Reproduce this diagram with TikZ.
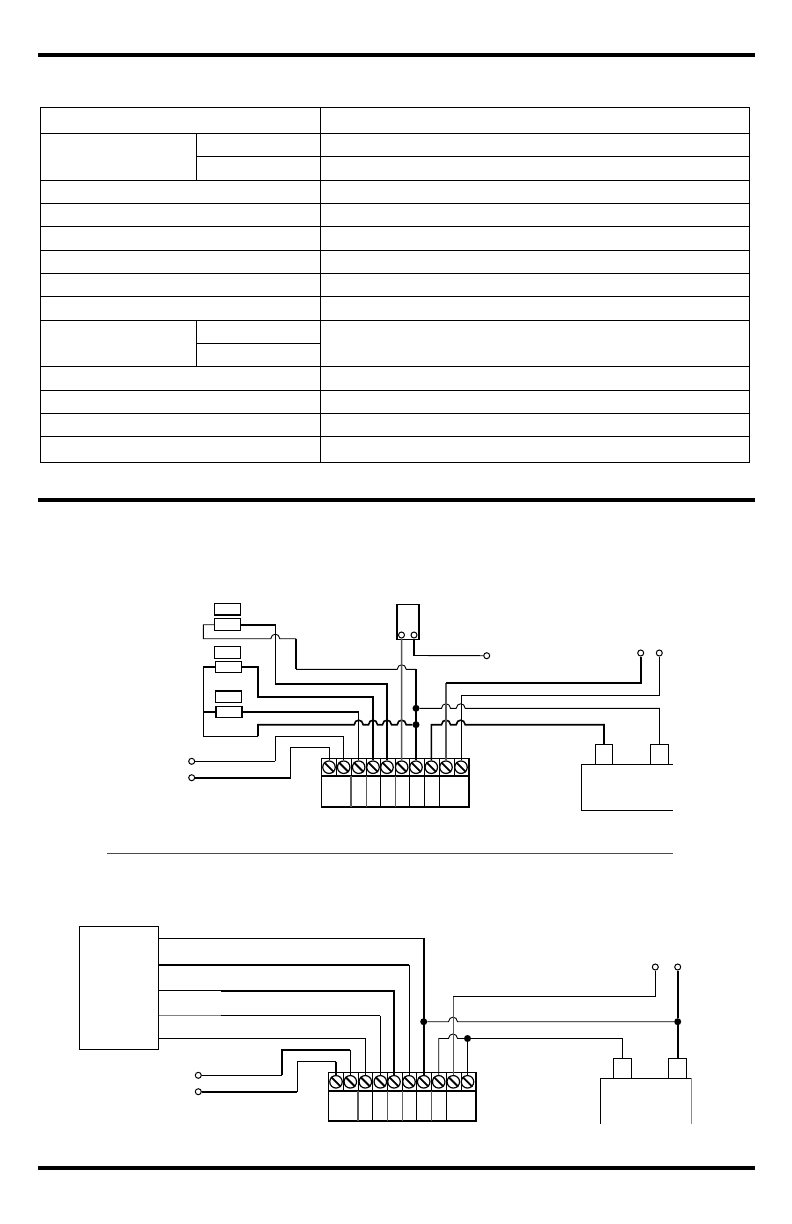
\documentclass[tikz,border=0pt]{standalone}
\usepackage{tikz}
\def\hop#1#2{-- ({#1-4.5},#2) .. controls ({#1-4},{#2-6}) and ({#1+4},{#2-6}) .. ({#1+4.5},#2)}
\tikzset{
  wire/.style={line width=.9pt},
  wirethick/.style={line width=1.6pt},
  wiregray/.style={line width=1.5pt, black!65},
  rule/.style={line width=4pt},
  cell/.style={line width=1pt},
  screw/.style={circle, draw, fill=white, line width=1.2pt, inner sep=0pt, minimum size=12.5pt},
  lug/.style={circle, draw, fill=white, line width=1pt, inner sep=0pt, minimum size=6pt},
  dot/.style={circle, fill=black, inner sep=0pt, minimum size=7pt},
  fuse/.style={rectangle, draw, fill=white, line width=1pt, inner sep=0pt, minimum width=26pt, minimum height=11.5pt},
  post/.style={rectangle, draw, fill=white, line width=1pt, inner sep=0pt, minimum width=17.5pt, minimum height=20pt}
}
\begin{document}
\begin{tikzpicture}[x=1pt, y=-1pt]

    \useasboundingbox (0,0) rectangle (792,1224);

    % page rules
    \draw[rule] (38,55) -- (755,55);
    \draw[rule] (38,500) -- (755,500);
    \draw[rule] (38,1168) -- (755,1168);
    \draw[line width=.8pt, black!70] (107,853.5) -- (673,853.5);

    % table
    \draw[cell] (40.5,107.3) rectangle (749.5,462.3);
    \foreach \y in {133.3,180.3,203.3,226.5,250.3,273.3,296.5,320.3,366.3,390.3,413.3,436.3}
      \draw[cell] (40.5,\y) -- (749.5,\y);
    \draw[cell] (320.3,107.3) -- (320.3,462.3);
    \draw[cell] (196.3,133.3) -- (196.3,180.3);
    \draw[cell] (196.3,320.3) -- (196.3,366.3);
    \draw[cell] (196.3,156.3) -- (749.5,156.3);
    \draw[cell] (196.3,343.3) -- (320.3,343.3);

    % upper terminal block
    \draw[line width=1.3pt] (321.7,758.3) rectangle (469,807);
    \draw[line width=1.3pt] (321.7,776) -- (469,776);
    \foreach \x in {336.3,351,366.3,380.7,395.3,409.3,424.3,439.3,454}
      \draw[line width=1pt] (\x,758.3) -- (\x,776);
    \draw[wiregray] (351,776) -- (351,807);
    \draw[wiregray] (366.3,776) -- (366.3,807);
    \draw[line width=1.3pt] (380.7,776) -- (380.7,807);
    \draw[wiregray] (395.3,776) -- (395.3,807);
    \draw[wire] (409.3,776) -- (409.3,807);
    \draw[line width=1.3pt] (424.3,776) -- (424.3,807);
    \draw[line width=1.3pt] (439.3,776) -- (439.3,807);
    \foreach \i/\x in {1/329,2/343.7,3/358.7,4/373,5/387,6/401.7,7/416,8/431.3,9/446,10/461}{
      \node[screw] (a\i) at (\x,767.2) {};
      \draw[line width=1.8pt] (a\i.135) -- (a\i.-45);
    }

    % fuses and relay
    \node[fuse, line width=1.6pt] (fa) at (227.3,609.3) {};
    \node[fuse] (fb) at (227.3,624.7) {};
    \node[fuse] (fc) at (227.7,652.3) {};
    \node[fuse, line width=1.4pt] (fd) at (228.3,667) {};
    \node[fuse, line width=1.4pt] (fe) at (228.7,696.7) {};
    \node[fuse, line width=1.4pt] (ff) at (229,712) {};
    \node[rectangle, draw, line width=1.4pt, inner sep=0pt, minimum width=22pt, minimum height=34.5pt] (relay) at (407.8,622) {};
    \node[lug] (ra) at (401.5,635) {};
    \node[lug] (rb) at (414,635) {};

    % upper lugs, dots, battery posts
    \node[lug] (la) at (191.7,761.3) {};
    \node[lug] (lb) at (191.7,777.7) {};
    \node[lug] (lr) at (486.7,655.7) {};
    \node[lug] (lc) at (640.7,653) {};
    \node[lug] (ld) at (659.3,653) {};
    \node[dot] (ds) at (416,708.3) {};
    \node[dot] (dt) at (416,724.7) {};
    \node[post] (pa) at (604,754.7) {};
    \node[post] (pb) at (659.5,754.7) {};
    \draw[wire] (672.7,764.7) -- (581.7,764.7) -- (581.7,810.3) -- (672.7,810.3);

    % upper wires
    \draw[wirethick] (fb.east) -| (275.3,684);
    \draw[wirethick] (275.3,684) -| (a5.north);
    \draw[wire] (fb.west) -- (203.3,624.7) -- (203.3,638.7) \hop{275.3}{638.7} -- (296,638.7);
    \draw[wirethick] (296,638.7) -- (296,669.3);
    \draw[wire] (296,669.3) \hop{401.7}{669.3} -- (416,669.3);
    \draw[wirethick] (416,669.3) -- (a7.north);
    \draw[wirethick] (fd.east) -| (258,697) -| (a4.north);
    \draw[wirethick] (fd.west) -- (203.3,667);
    \draw[wire] (203.3,667) -- (203.3,736) -- (258,736);
    \draw[wirethick] (258,736) -- (258,724.7) \hop{358.7}{724.7} \hop{373}{724.7} \hop{387}{724.7} \hop{401.7}{724.7} -- (dt);
    \draw[line width=1.3pt] (ff.east) -- (358.7,712);
    \draw[wire] (358.7,712) -- (a3.north);
    \draw[wirethick] (ff.west) -- (203.3,712);
    \draw[wire] (la.east) -- (275.3,761.3);
    \draw[wirethick] (275.3,761.3) -- (275.3,736);
    \draw[wire] (275.3,736) -| (a2.north);
    \draw[wirethick] (lb.east) -- (290.7,777.7);
    \draw[wire] (290.7,777.7) -- (290.7,747.3) -| (a1.north);
    \draw[wiregray] (ra.south) -- (a6.north);
    \draw[wirethick] (rb.south) -- (414,655.5);
    \draw[wire] (414,655.5) -- (lr.west);
    \draw[wire] (ds) \hop{446}{708.3} \hop{460.7}{708.3} -| (pb.north);
    \draw[wirethick] (a8.north) -- (431.3,724.7) \hop{446}{724.7} \hop{460.7}{724.7} -| (pa.north);
    \draw[wiregray] (a9.north) -- (446,682.7);
    \draw[wirethick] (446,682.7) -| (lc.south);
    \draw[wire] (a10.north) -- (461,695) -| (ld.south);

    % lower terminal block
    \draw[line width=1.3pt] (328.3,1072.7) rectangle (476,1121);
    \draw[line width=1.3pt] (328.3,1091) -- (476,1091);
    \foreach \x in {343.3,358,372.7,387.3,402.7,416.7,431.7,446.7,461.7}
      \draw[line width=1pt] (\x,1072.7) -- (\x,1091);
    \draw[wiregray] (358,1091) -- (358,1121);
    \draw[line width=1.3pt] (372.7,1091) -- (372.7,1121);
    \draw[wiregray] (387.3,1091) -- (387.3,1121);
    \draw[wire, black!60] (402.7,1091) -- (402.7,1121);
    \draw[wire] (416.7,1091) -- (416.7,1121);
    \draw[wiregray] (431.7,1091) -- (431.7,1121);
    \draw[wire] (446.7,1091) -- (446.7,1121);
    \foreach \i/\x in {1/336,2/350.3,3/365.3,4/380.3,5/394,6/409,7/423.7,8/438.7,9/453.3,10/467.5}{
      \node[screw] (b\i) at (\x,1081.8) {};
      \draw[line width=1.8pt] (b\i.135) -- (b\i.-45);
    }

    % panel, lower lugs, dots, battery posts
    \node[rectangle, draw, line width=1pt, inner sep=0pt, minimum width=79pt, minimum height=122.6pt] (panel) at (119.2,988) {};
    \node[lug] (lp) at (198.3,1075.3) {};
    \node[lug] (lq) at (198.3,1091.7) {};
    \node[lug] (ls) at (655.3,967) {};
    \node[lug] (lt) at (677.7,967) {};
    \node[dot] (du) at (423.7,1021.7) {};
    \node[dot] (dv) at (677.7,1021.7) {};
    \node[dot] (dw) at (467.5,1038.5) {};
    \node[post] (pc) at (622.7,1068.3) {};
    \node[post] (pd) at (677.7,1068.3) {};
    \draw[wire] (600.3,1123.7) -- (600.3,1078.3) -- (691.3,1078.3);
    \draw[wire, black!45] (691.3,1078.3) -- (691.3,1123.7);

    % lower wires
    \draw[wire] (158.7,938.3) -- (423.7,938.3);
    \draw[wirethick] (423.7,938.3) -- (b7.north);
    \draw[wirethick] (158.7,964.7) -- (409,964.7);
    \draw[wire] (409,964.7) -- (b6.north);
    \draw[wire] (158.7,990.7) -- (221,990.7);
    \draw[wirethick] (221,990.7) -| (b5.north);
    \draw[wire, black!50] (158.7,1015.5) -- (221,1015.5);
    \draw[wire] (221,1015.5) -- (380.3,1015.5);
    \draw[wirethick] (380.3,1015.5) -- (b4.north);
    \draw[wire] (158.7,1038.5) -| (b3.north);
    \draw[wire] (lp.east) -- (282,1075.3);
    \draw[wirethick] (282,1075.3) -- (282,1050) -- (350.3,1050);
    \draw[wire] (350.3,1050) -- (b2.north);
    \draw[wirethick] (lq.east) -- (297.3,1091.7);
    \draw[wire] (297.3,1091.7) -- (297.3,1061.7) -- (336,1061.7);
    \draw[wirethick] (336,1061.7) -- (b1.north);
    \draw[wire] (du) \hop{453}{1021.7} -- (dv);
    \draw[wire] (b8.north) -- (438.7,1038.5) \hop{453}{1038.5} -- (dw);
    \draw[wire] (dw) -| (pc.north);
    \draw[wire] (dw) -- (b10.north);
    \draw[wiregray] (b9.north) -- (453.3,996.3);
    \draw[wire] (453.3,996.3) -| (ls.south);
    \draw[wirethick] (lt.south) -- (dv);
    \draw[wirethick] (dv) -- (pd.north);

\end{tikzpicture}
\end{document}
